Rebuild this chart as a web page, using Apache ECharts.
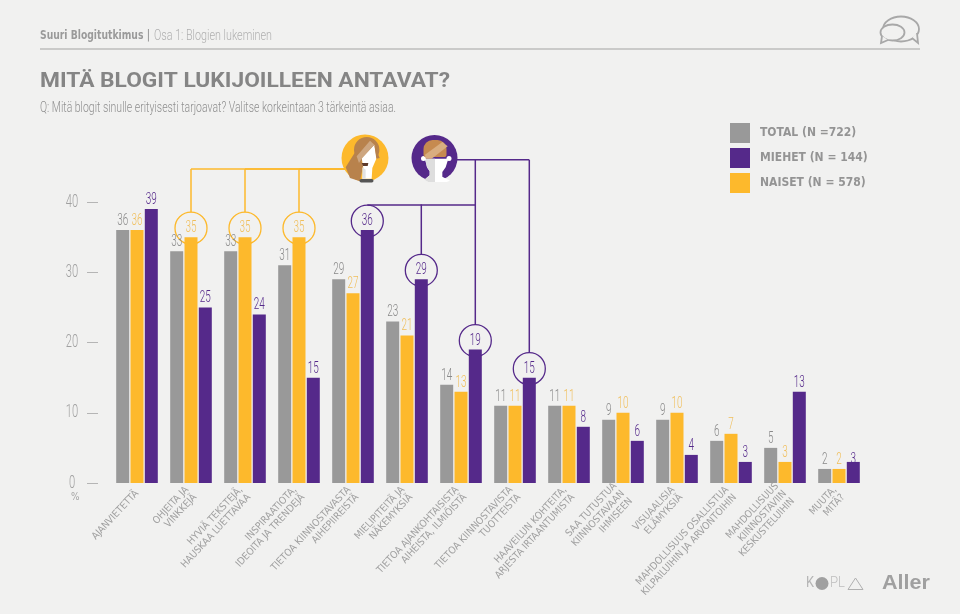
<!DOCTYPE html>
<html><head><meta charset="utf-8">
<style>html,body{margin:0;padding:0;background:#f1f1f0}#c{width:960px;height:614px}</style>
<script src="https://cdn.jsdelivr.net/npm/echarts@6/dist/echarts.min.js"></script>
</head><body><div id="c"></div>
<script>
const categories = ["AJANVIETETTÄ","OHJEITA JA\nVINKKEJÄ","HYVIÄ TEKSTEJÄ,\nHAUSKAA LUETTAVAA","INSPIRAATIOTA,\nIDEOITA JA TRENDEJÄ","TIETOA KIINNOSTAVASTA\nAIHEPIIREISTÄ","MIELIPITEITÄ JA\nNÄKEMYKSIÄ","TIETOA AJANKOHTAISISTA\nAIHEISTA, ILMIÖISTÄ","TIETOA KIINNOSTAVISTA\nTUOTTEISTA","HAAVEILUN KOHTEITA,\nARJESTA IRTAANTUMISTA","SAA TUTUSTUA\nKIINNOSTAVAAN\nIHMISEEN","VISUAALISIA\nELÄMYKSIÄ","MAHDOLLISUUS OSALLISTUA\nKILPAILUIHIN JA ARVONTOIHIN","MAHDOLLISUUS\nKIINNOSTAVIIN\nKESKUSTELUIHIN","MUUTA,\nMITÄ?"];
const total  = [36,33,33,31,29,23,14,11,11,9,9,6,5,2];
const naiset = [36,35,35,35,27,21,13,11,11,10,10,7,3,2];
const miehet = [39,25,24,15,36,29,19,15,8,6,4,3,13,3];
const yTicks = [0,10,20,30,40];
const naisetCircled = [1,2,3];
const miehetCircled = [4,5,6,7];
const names = ["TOTAL (N =722)","MIEHET (N = 144)","NAISET (N = 578)"];

const GRAY='#999999', PURPLE='#55298a', YELLOW='#fdb92c', BG='#f1f1f0';
const COND='"DejaVu Sans Condensed","DejaVu Sans",sans-serif';
const NUMFONT='300 16px Roboto,sans-serif';
const R=16, LIFT=9, OFF=14.3, NARROWX=0.62;

const chart = echarts.init(document.getElementById('c'),null,{renderer:'canvas'});
const mctx=document.createElement('canvas').getContext('2d');
function fitText(text,font,x,yMid,width,fill,z){
  mctx.font=font;
  return {type:'text',silent:true,x:x,y:yMid,scaleX:width/mctx.measureText(text).width,z:z||10,
    style:{text,font,fill,align:'left',verticalAlign:'middle'}};
}

function connector(params, api){
  const cat=api.value(0), val=api.value(1), kind=api.value(2);
  const p=api.coord([cat,val]);
  const isP=kind===1;
  const x=p[0]+(isP?OFF:0), cy=p[1]-LIFT;
  const color=isP?PURPLE:YELLOW;
  const trunkVal=isP?(cat<=5?39.65:46):44.7;
  const ty=api.coord([0,trunkVal])[1];
  const children=[{type:'circle',shape:{cx:x,cy:cy,r:R},style:{fill:'none',stroke:color,lineWidth:1.3}}];
  const line=(x1,y1,x2,y2)=>children.push({type:'line',shape:{x1,y1,x2,y2},style:{stroke:color,lineWidth:1.5}});
  if(!(isP&&cat===4)) line(x,ty,x,cy-R);
  if(!isP) line(x,ty,346,ty);
  if(isP&&cat===4){ line(x,cy-R,api.coord([6,0])[0]+OFF,cy-R); }
  if(isP&&cat===7) line(x,ty,456,ty);
  return {type:'group',children};
}
const circleData=naisetCircled.map(i=>[i,naiset[i],0]).concat(miehetCircled.map(i=>[i,miehet[i],1]));

function valueLabels(values,dx,fill){
  return {type:'custom',name:'labels'+dx,z:3,clip:false,silent:true,
    data:values.map((v,i)=>[i,v]),encode:{x:0,y:1},
    renderItem(params,api){
      const i=api.value(0),p=api.coord([i,api.value(1)]);
      const sunk=(dx>0&&i===values.length-1)?7:0;
      return {type:'text',x:p[0]+dx,y:p[1]-LIFT+sunk,scaleX:NARROWX,
        style:{text:String(api.value(1)),font:NUMFONT,fill,align:'center',verticalAlign:'middle'}};
    }};
}
const yLabels={type:'custom',name:'ylabels',z:3,clip:false,silent:true,
  data:yTicks.map(v=>[0,v]),encode:{x:0,y:1},
  renderItem(params,api){
    const p=api.coord([0,api.value(1)]);
    return {type:'text',x:p[0]-65,y:p[1],scaleX:NARROWX,
      style:{text:String(api.value(1)),font:'300 18px Roboto,sans-serif',fill:'#a0a0a0',align:'center',verticalAlign:'middle'}};
  }};

const g=(o)=>Object.assign({silent:true},o);
const A=(x,y)=>[335+x/3,128+y/3];
const poly=(pts,fill,z)=>g({type:'polygon',shape:{points:pts.map(q=>A(q[0],q[1]))},style:{fill},z:z||10});
const circ=(cx,cy,r,fill,z)=>g({type:'circle',shape:{cx,cy,r},style:{fill},z:z||10});
const graphics=[
  g({type:'line',shape:{x1:40,y1:49,x2:920,y2:49},style:{stroke:'#bdbdbd',lineWidth:1.5}}),
  fitText('Suuri Blogitutkimus |','bold 12px '+COND,40,36,110,'#9a9a9a'),
  fitText('Osa 1: Blogien lukeminen','300 14px Roboto,sans-serif',154,36,118,'#b0b0b0'),
  fitText('MITÄ BLOGIT LUKIJOILLEEN ANTAVAT?','bold 21px Roboto,sans-serif',40,82,410,'#858585'),
  fitText('Q: Mitä blogit sinulle erityisesti tarjoavat? Valitse korkeintaan 3 tärkeintä asiaa.','300 15px Roboto,sans-serif',40,108,356,'#8f8f8f'),
  g({type:'text',x:71,y:492,style:{text:'%',font:'10px '+COND,fill:'#a5a5a5'}}),
  // speech bubbles
  g({type:'ellipse',shape:{cx:901,cy:29,rx:18,ry:12.5},style:{fill:'none',stroke:'#a8a8a8',lineWidth:1.8}}),
  g({type:'polyline',shape:{points:[[912,38],[918,43],[917,33]]},style:{fill:BG,stroke:'#a8a8a8',lineWidth:1.8}}),
  g({type:'ellipse',shape:{cx:892.5,cy:32.5,rx:12,ry:8},style:{fill:BG,stroke:'#a8a8a8',lineWidth:1.8}}),
  g({type:'polyline',shape:{points:[[882,36],[881,43],[888,40]]},style:{fill:BG,stroke:'#a8a8a8',lineWidth:1.8}}),
  // female avatar
  circ(365,158,23.5,YELLOW),
  circ(366.7,149.7,12.7,'#b8824c',11),
  poly([[62,70],[32,118],[45,150],[75,160],[85,110]],'#b8824c',11),
  poly([[80,90],[118,50],[125,90],[112,120],[110,152],[82,152],[85,120]],'#ffffff',12),
  poly([[65,85],[105,38],[118,50],[80,92],[72,105]],'#cda680',13),
  poly([[118,50],[134,90],[124,92]],'#b8824c',13),
  poly([[82,118],[92,125],[92,152],[82,152]],'#e2e2e2',13),
  poly([[80,105],[100,105],[98,114],[84,114]],'#5d3a2a',14),
  g({type:'rect',shape:{x:359.5,y:179,width:14,height:3.5,r:1.7},style:{fill:'#555'},z:14}),
  // male avatar
  circ(434.5,158,23,PURPLE),
  g({type:'rect',shape:{x:423.5,y:140,width:23,height:17,r:[9,9,2,2]},style:{fill:'#c68a50'},z:12}),
  poly([[270,92],[340,92],[332,118],[322,132],[322,146],[345,158],[335,162],[280,162],[268,155],[284,142],[284,130],[276,118]],'#ffffff',11),
  poly([[270,92],[300,92],[300,162],[280,162],[268,155],[284,142],[284,130],[276,118]],'#dedede',11),
  poly([[270,80],[322,42],[338,55],[290,92],[272,92]],'#d9ad80',13),
  circ(423.5,158.5,2.5,'#ffffff',11),
  circ(449,158.5,2.5,'#ffffff',11),
  // logos
  fitText('K','15px Roboto,sans-serif',806,583.5,8,'#b5b5b5'),
  circ(822,583.5,6.5,'#a0a0a0'),
  fitText('PL','300 15px Roboto,sans-serif',830,583.5,15,'#bdbdbd'),
  g({type:'polygon',shape:{points:[[848,589.5],[855.5,578],[863,589.5]]},style:{fill:'none',stroke:'#b0b0b0',lineWidth:1}}),
  fitText('Aller','bold 20px "Liberation Sans",sans-serif',882,583,48,'#a0a0a0')
];

chart.setOption({
  backgroundColor:BG, animation:false,
  grid:{left:110,width:756,top:202,height:281},
  legend:{orient:'vertical',left:730,top:123,padding:0,itemWidth:20,itemHeight:20,itemGap:5,icon:'rect',
    data:names,selectedMode:false,textStyle:{color:'#949494',fontFamily:COND,fontWeight:'bold',fontSize:12,padding:[0,0,0,5]}},
  graphic:graphics,
  xAxis:{type:'category',data:categories,axisLine:{show:false},axisTick:{show:false},
    axisLabel:{interval:0,rotate:47,margin:9,color:'#a0a0a0',fontFamily:COND,fontSize:10,lineHeight:11}},
  yAxis:{type:'value',min:0,max:40,interval:10,offset:12,splitLine:{show:false},axisLine:{show:false},
    axisTick:{show:true,length:11,lineStyle:{color:'#b5b5b5',width:1}},axisLabel:{show:false}},
  series:[
    {type:'custom',name:'circles',data:circleData,renderItem:connector,z:1,clip:false,silent:true,encode:{x:0,y:1}},
    {type:'bar',name:names[0],data:total,barWidth:13,barGap:'10%',itemStyle:{color:GRAY},z:2},
    {type:'bar',name:names[2],data:naiset,barWidth:13,barGap:'10%',itemStyle:{color:YELLOW},z:2},
    {type:'bar',name:names[1],data:miehet,barWidth:13,barGap:'10%',itemStyle:{color:PURPLE},z:2},
    valueLabels(total,-OFF,'#8a8a8a'),
    valueLabels(naiset,0,'#f0bf5c'),
    valueLabels(miehet,OFF,PURPLE),
    yLabels
  ]
});
</script></body></html>
